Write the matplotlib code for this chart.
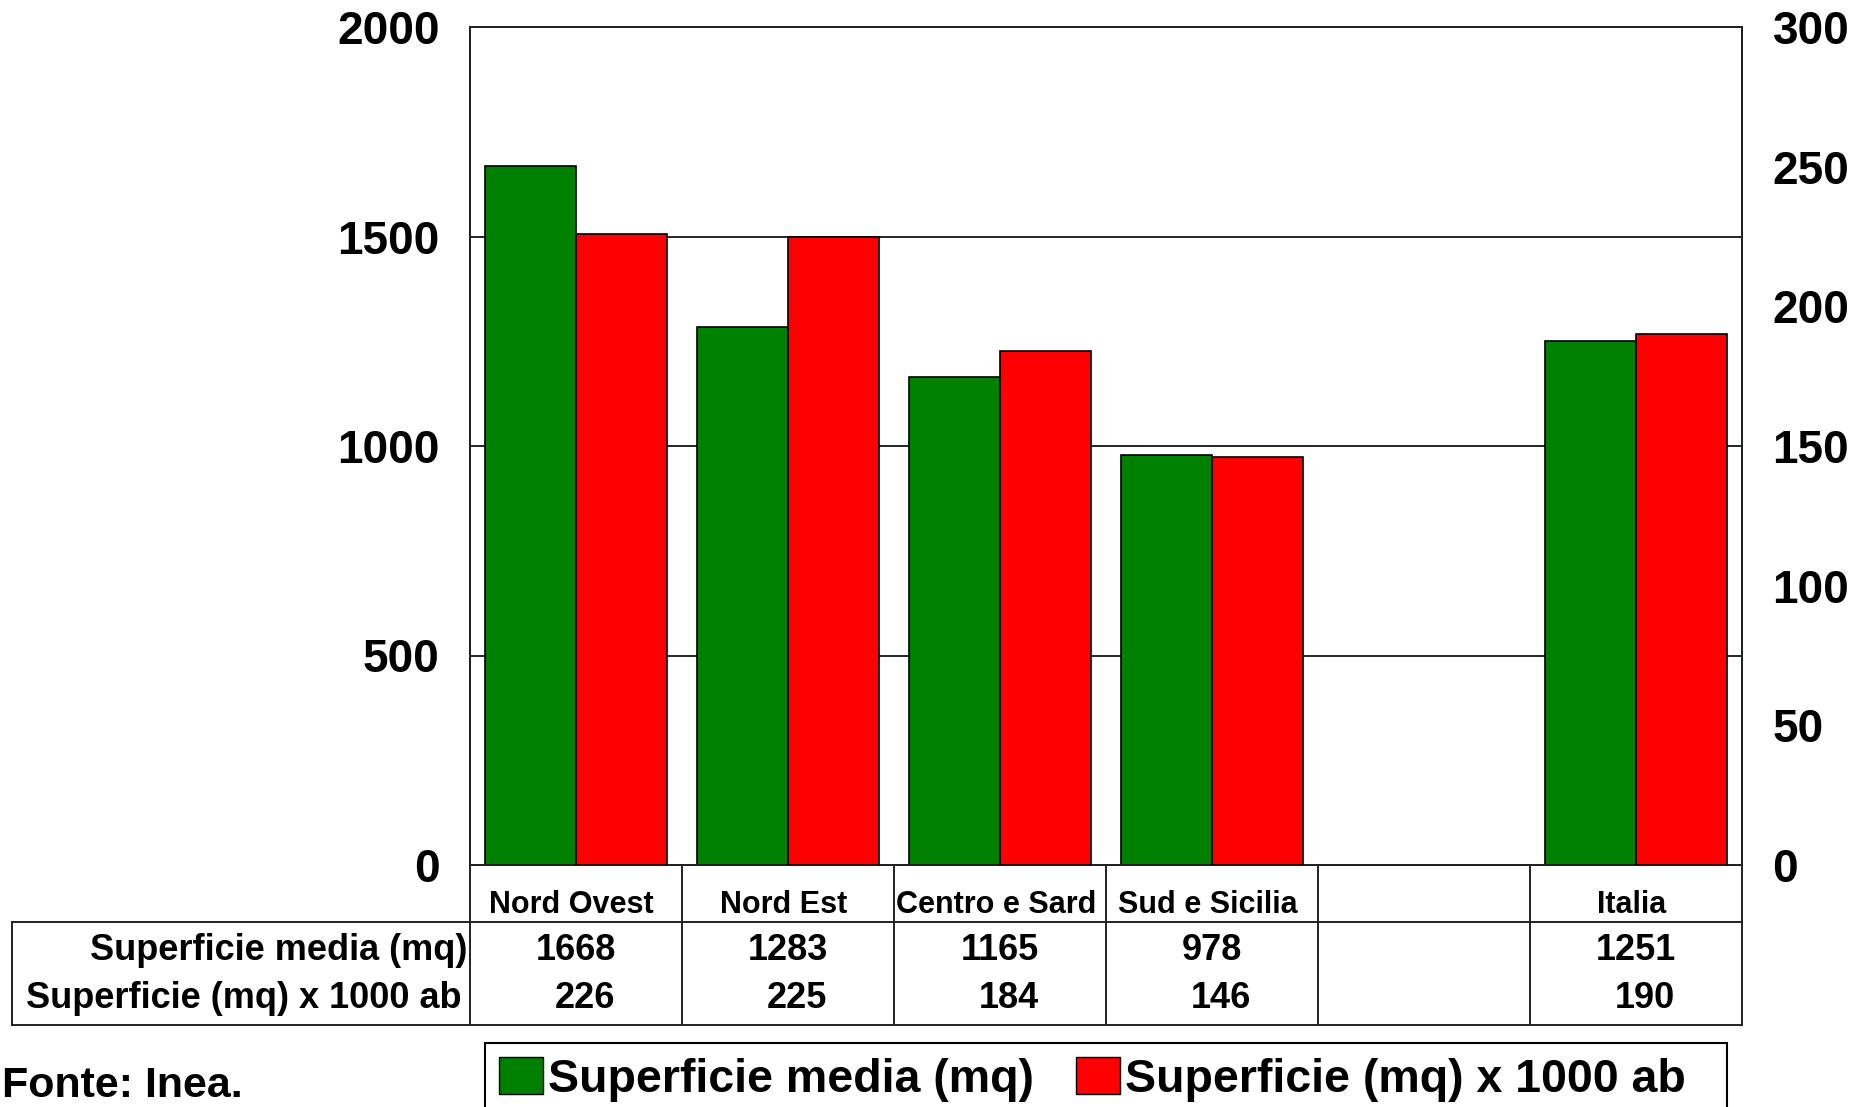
import matplotlib
matplotlib.use("Agg")
import matplotlib.pyplot as plt
from matplotlib.patches import Patch, Rectangle
from matplotlib.lines import Line2D
from matplotlib.transforms import blended_transform_factory

plt.rcParams['font.family'] = ['Liberation Sans', 'DejaVu Sans']
plt.rcParams['font.weight'] = 'bold'

# Data
regions = ['Nord Ovest', 'Nord Est', 'Centro e Sard', 'Sud e Sicilia', '', 'Italia']
sup_media = [1668, 1283, 1165, 978, None, 1251]
sup_1000ab = [226, 225, 184, 146, None, 190]
row_labels = ['Superficie media (mq)', 'Superficie (mq) x 1000 ab']
left_ticks = [0, 500, 1000, 1500, 2000]
right_ticks = [0, 50, 100, 150, 200, 250, 300]

green = '#008000'
red = '#FF0000'

W, H = 1865, 1107
fig = plt.figure(figsize=(W / 100, H / 100), dpi=100)

def fx(px):
    return px / W

def fy(py):
    return 1 - py / H

ax = fig.add_axes([fx(470), fy(865), fx(1742) - fx(470), fy(27) - fy(865)])
ax2 = ax.twinx()

bw = 0.427
for i, v in enumerate(sup_media):
    if v is not None:
        ax.bar(i - bw / 2, v, width=bw, color=green, edgecolor='black', linewidth=1.2, zorder=3)
for i, v in enumerate(sup_1000ab):
    if v is not None:
        ax2.bar(i + bw / 2, v, width=bw, color=red, edgecolor='black', linewidth=1.2, zorder=3)

ax.set_xlim(-0.5, len(regions) - 0.5)
ax.set_ylim(0, 2000)
ax2.set_ylim(0, 300)
ax.set_xticks([])
ax.set_yticks(left_ticks)
ax2.set_yticks(right_ticks)
ax.tick_params(axis='y', length=0, pad=22, labelsize=33)
ax2.tick_params(axis='y', length=0, pad=22, labelsize=33)
for lab in ax.get_yticklabels() + ax2.get_yticklabels():
    lab.set_fontweight('bold')

for y in left_ticks[1:-1]:
    ax.axhline(y, color='black', linewidth=1.2, zorder=1)

for a in (ax, ax2):
    for s in a.spines.values():
        s.set_color('#222222')
        s.set_linewidth(1.4)

# Data table under the chart
tr = blended_transform_factory(ax.transData, fig.transFigure)
n = len(regions)
lw = 1.4
for k in range(n + 1):
    fig.add_artist(Line2D([k - 0.5, k - 0.5], [fy(865), fy(1025)], transform=tr, color='#222222', lw=lw))
for py in (922, 1025):
    fig.add_artist(Line2D([fx(12), fx(1742)], [fy(py), fy(py)], transform=fig.transFigure, color='#222222', lw=lw))
fig.add_artist(Line2D([fx(12), fx(12)], [fy(922), fy(1025)], transform=fig.transFigure, color='#222222', lw=lw))

for i, name in enumerate(regions):
    fig.text(i - 0.02, fy(913), name, transform=tr, ha='center', va='baseline', fontsize=22, fontweight='bold')
    if sup_media[i] is not None:
        fig.text(i, fy(960), str(sup_media[i]), transform=tr, ha='center', va='baseline', fontsize=26, fontweight='bold')
        fig.text(i + 0.04, fy(1008), str(sup_1000ab[i]), transform=tr, ha='center', va='baseline', fontsize=26, fontweight='bold')

fig.text(fx(467), fy(960), row_labels[0], ha='right', va='baseline', fontsize=26, fontweight='bold')
fig.text(fx(462), fy(1008), row_labels[1], ha='right', va='baseline', fontsize=26, fontweight='bold')

# Legend (frame drawn separately so it runs off the bottom edge like the original)
handles = [Patch(facecolor=green, edgecolor='black', label=row_labels[0]),
           Patch(facecolor=red, edgecolor='black', label=row_labels[1])]
leg = fig.legend(handles=handles, loc='upper left', bbox_to_anchor=(fx(485), fy(1043)),
                 ncol=2, frameon=False,
                 prop={'size': 33.5, 'weight': 'bold'}, handlelength=0.95, handleheight=0.85,
                 handletextpad=0.1, columnspacing=0.9, borderpad=0.3, borderaxespad=0)
fig.add_artist(Rectangle((fx(485), fy(1130)), fx(1727) - fx(485), fy(1043) - fy(1130),
                         transform=fig.transFigure, facecolor='none', edgecolor='black', lw=1.5))

fig.text(fx(2), fy(1097), 'Fonte: Inea.', ha='left', va='baseline', fontsize=31, fontweight='bold')

fig.savefig('out.png', dpi=100)
